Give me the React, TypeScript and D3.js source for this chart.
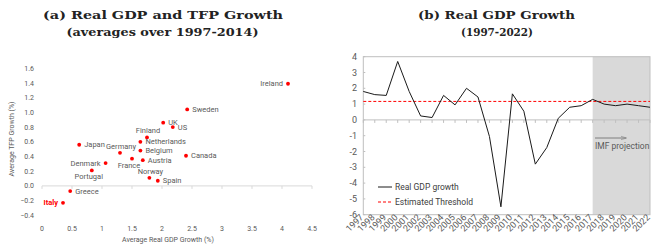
import * as d3 from 'd3'

// (a) scatter: average real GDP growth vs TFP growth, 1997-2014
const countries = ['Ireland', 'Sweden', 'UK', 'US', 'Finland', 'Netherlands', 'Germany', 'Belgium', 'France', 'Austria', 'Canada', 'Japan', 'Denmark', 'Portugal', 'Norway', 'Spain', 'Greece', 'Italy']
const gdpGrowth = [4.1, 2.42, 2.02, 2.18, 1.75, 1.64, 1.3, 1.64, 1.5, 1.68, 2.4, 0.62, 1.06, 0.83, 1.79, 1.93, 0.47, 0.35]
const tfpGrowth = [1.39, 1.04, 0.86, 0.8, 0.66, 0.6, 0.45, 0.48, 0.37, 0.35, 0.41, 0.56, 0.31, 0.21, 0.11, 0.07, -0.07, -0.23]
const labelSide = ['left', 'right', 'right', 'right', 'above', 'right', 'above', 'right', 'below', 'right', 'right', 'right', 'left', 'below', 'above', 'right', 'right', 'left']
const scatterXTicks = [0, 0.5, 1, 1.5, 2, 2.5, 3, 3.5, 4, 4.5]
const scatterYTicks = [-0.4, -0.2, 0, 0.2, 0.4, 0.6, 0.8, 1.0, 1.2, 1.4, 1.6]

// (b) Italy real GDP growth with IMF projection
const years = ['1997', '1998', '1999', '2000', '2001', '2002', '2003', '2004', '2005', '2006', '2007', '2008', '2009', '2010', '2011', '2012', '2013', '2014', '2015', '2016', '2017', '2018', '2019', '2020', '2021', '2022']
const realGdp = [1.8, 1.6, 1.55, 3.7, 1.8, 0.25, 0.15, 1.55, 0.95, 2.0, 1.45, -1.05, -5.5, 1.65, 0.55, -2.8, -1.75, 0.1, 0.8, 0.9, 1.3, 1.0, 0.9, 1.0, 0.9, 0.8]
const threshold = 1.17
const projectionStart = '2017'
const lineYTicks = [-6, -5, -4, -3, -2, -1, 0, 1, 2, 3, 4]

const SANS = 'Roboto, "Liberation Sans", sans-serif'
const SERIF = '"DejaVu Serif", serif'
const TEXT = '#595959'

// titles are set in a wide bold serif; stretch to the reference width
function Title({ x, y, width, children }: { x: number; y: number; width: number; children: string }) {
  return (
    <text
      x={x}
      y={y}
      textAnchor="middle"
      fontFamily={SERIF}
      fontWeight="bold"
      fontSize={11.5}
      fill="#222"
      textLength={width}
      lengthAdjust="spacingAndGlyphs"
    >
      {children}
    </text>
  )
}

function Scatter() {
  const x = d3.scaleLinear().domain([0, 4.5]).range([42, 312])
  const y = d3.scaleLinear().domain([-0.4, 1.6]).range([215.3, 68.3])

  const points = countries.map((name, i) => ({
    name,
    cx: x(gdpGrowth[i]),
    cy: y(tfpGrowth[i]),
    side: labelSide[i],
  }))

  return (
    <g>
      <Title x={163} y={19} width={240}>(a) Real GDP and TFP Growth</Title>
      <Title x={162.5} y={36} width={192}>(averages over 1997-2014)</Title>

      <line x1={x(0)} x2={x(4.5)} y1={y(0)} y2={y(0)} stroke="#d9d9d9" />
      {scatterXTicks.map((t) => (
        <line key={t} x1={x(t)} x2={x(t)} y1={y(0)} y2={y(0) + 3} stroke="#d9d9d9" />
      ))}
      {scatterXTicks.map((t) => (
        <text key={t} x={x(t)} y={231} textAnchor="middle" fontFamily={SANS} fontSize={7} fill={TEXT}>
          {t}
        </text>
      ))}
      {scatterYTicks.map((t) => (
        <text key={t} x={34} y={y(t) + 2.5} textAnchor="end" fontFamily={SANS} fontSize={7} fill={TEXT}>
          {d3.format('.1f')(t)}
        </text>
      ))}
      <text transform={`translate(14, 139) rotate(-90)`} textAnchor="middle" fontFamily={SANS} fontSize={7} fill={TEXT}>
        Average TFP Growth (%)
      </text>
      <text x={168} y={242} textAnchor="middle" fontFamily={SANS} fontSize={7} fill={TEXT}>
        Average Real GDP Growth (%)
      </text>

      {points.map((p) => {
        const isItaly = p.name === 'Italy'
        let tx = p.cx + 5
        let ty = p.cy + 2.5
        let anchor = 'start'
        if (p.side === 'left') {
          tx = p.cx - 5
          anchor = 'end'
        } else if (p.side === 'above') {
          tx = p.cx + 1
          ty = p.cy - 4
          anchor = 'middle'
        } else if (p.side === 'below') {
          tx = p.cx - 3
          ty = p.cy + 9
          anchor = 'middle'
        }
        return (
          <g key={p.name}>
            <circle cx={p.cx} cy={p.cy} r={1.9} fill="#ff0000" />
            <text
              x={tx}
              y={ty}
              textAnchor={anchor}
              fontFamily={SANS}
              fontSize={7.5}
              fontWeight={isItaly ? 'bold' : 'normal'}
              fill={isItaly ? '#ff0000' : TEXT}
            >
              {p.name}
            </text>
          </g>
        )
      })}
    </g>
  )
}

function GrowthLine() {
  const x = d3.scalePoint<string>().domain(years).range([363.3, 650]).padding(0)
  const y = d3.scaleLinear().domain([-6, 4]).range([214.7, 56.7])
  const path = d3
    .line<number>()
    .x((_, i) => x(years[i]) as number)
    .y((v) => y(v))(realGdp) as string
  const left = x(years[0]) as number
  const right = x(years[years.length - 1]) as number
  const shadeX = x(projectionStart) as number

  return (
    <g>
      <defs>
        <marker id="imf-arrow" viewBox="0 0 10 10" refX={9} refY={5} markerWidth={6} markerHeight={6} orient="auto">
          <path d="M0,2 L10,5 L0,8" fill="none" stroke="#7f7f7f" strokeWidth={1} />
        </marker>
      </defs>
      <Title x={496.5} y={19} width={157}>(b) Real GDP Growth</Title>
      <Title x={497} y={36} width={72}>(1997-2022)</Title>

      <rect x={shadeX} y={y(4)} width={right - shadeX} height={y(-6) - y(4)} fill="#d9d9d9" />
      <rect x={left} y={y(4)} width={right - left} height={y(-6) - y(4)} fill="none" stroke="#bfbfbf" />

      {lineYTicks.map((t) => (
        <g key={t}>
          <line x1={left} x2={left + 2} y1={y(t)} y2={y(t)} stroke="#bfbfbf" />
          <text x={357} y={y(t) + 3} textAnchor="end" fontFamily={SANS} fontSize={9} fill={TEXT}>
            {t}
          </text>
        </g>
      ))}

      <line x1={left} x2={right} y1={y(0)} y2={y(0)} stroke="#bfbfbf" />
      {years.map((yr) => (
        <line key={yr} x1={x(yr)} x2={x(yr)} y1={y(0)} y2={y(0) + 3} stroke="#bfbfbf" />
      ))}
      {years.map((yr) => (
        <text
          key={yr}
          transform={`translate(${(x(yr) as number) + 0.5}, 218) rotate(-45)`}
          textAnchor="end"
          fontFamily={SANS}
          fontSize={9}
          fill={TEXT}
        >
          {yr}
        </text>
      ))}

      <line x1={left} x2={right} y1={y(threshold)} y2={y(threshold)} stroke="#ff0000" strokeDasharray="3,2" />
      <path d={path} fill="none" stroke="#1a1a1a" strokeWidth={1} />

      <line x1={595} x2={626} y1={138} y2={138} stroke="#7f7f7f" markerEnd="url(#imf-arrow)" />
      <text x={595} y={149} fontFamily={SANS} fontSize={8.5} fill={TEXT}>
        IMF projection
      </text>

      <line x1={378} x2={392} y1={187} y2={187} stroke="#1a1a1a" />
      <text x={395} y={190} fontFamily={SANS} fontSize={8.5} fill="#404040">
        Real GDP growth
      </text>
      <line x1={378} x2={392} y1={202} y2={202} stroke="#ff0000" strokeDasharray="3,2" />
      <text x={395} y={205} fontFamily={SANS} fontSize={8.5} fill="#404040">
        Estimated Threshold
      </text>
    </g>
  )
}

export default function App() {
  return (
    <svg
      width={651}
      height={247}
      viewBox="0 0 651 247"
      style={{ position: 'absolute', left: 0, top: 0, background: '#fff' }}
    >
      <Scatter />
      <GrowthLine />
    </svg>
  )
}
